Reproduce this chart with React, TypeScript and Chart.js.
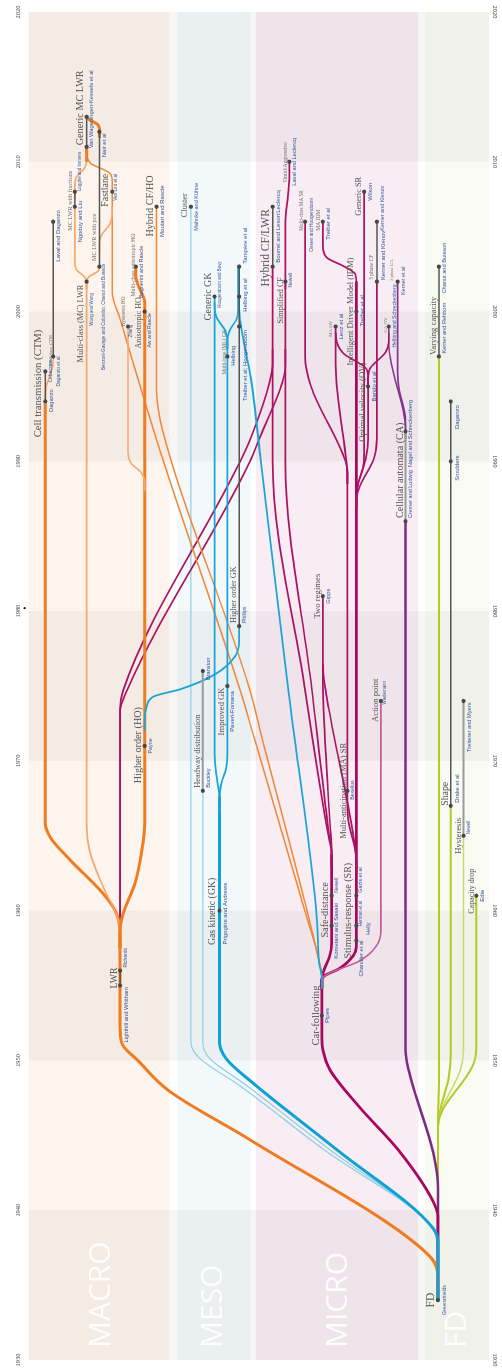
import React, { useEffect, useRef } from "react";
import { Chart, registerables } from "chart.js";

Chart.register(...registerables);

type Pt = [number, number]; // [lane, year]
type Lbl = [string, number, number, number]; // [text, lane, fromYear, toYear]

const PAGE_W = 502;
const PAGE_H = 1368;

// ---------------- axes / frame ----------------
const YEAR_MIN = 1930;
const YEAR_MAX = 2020;
const decadeTicks = [1930, 1940, 1950, 1960, 1970, 1980, 1990, 2000, 2010, 2020];
const darkDecades = [1930, 1950, 1970, 1990, 2010];
const columnNames = ["MACRO", "MESO", "MICRO", "FD"];
const columnLanes: Pt[] = [[25, 168], [176, 251], [256, 421], [428, 493]];
const columnCenters = [99, 213, 340, 461];
const frameLanes: Pt = [25, 493];

// ---------------- MACRO paths ----------------
const fdToLwr: Pt[] = [[441, 1934.0], [440.5, 1935.9], [430, 1937.1], [250, 1944.7], [167, 1948.0], [136, 1950.0], [120, 1951.1], [118, 1952.3], [118, 1958.6]];
const lwrToCtm: Pt[] = [[118, 1957.5], [118, 1958.6], [113, 1960.0], [100, 1961.2], [67, 1963.4], [47, 1964.9], [42, 1965.9], [42, 1994.0]];
const lwrToMc: Pt[] = [[118, 1957.5], [118, 1958.6], [115, 1959.6], [100, 1961.7], [87, 1964.0], [84, 1965.8], [84, 2002.0]];
const lwrToHo: Pt[] = [[118, 1957.5], [118, 1958.6], [121, 1959.8], [133, 1961.8], [140, 1964.0], [143, 1965.8], [143, 2000.0]];
const hoToAniso: Pt[] = [[143, 1999.5], [143, 2000.6], [136, 2001.8], [134, 2002.4], [134, 2003.0]];
const hoToZhang: Pt[] = [[143, 1988.0], [143, 1988.6], [140, 1989.2], [129, 1989.9], [126, 1990.6], [126, 1999.0]];
const ctmMulti: Pt[] = [[42, 1993.8], [42, 1994.4], [43, 1995.0], [49, 1996.2], [50, 1996.8], [50, 1997.0]];
const mcLeft: Pt[] = [[84, 2001.5], [84, 2002.0], [82, 2002.3], [73.5, 2002.8], [72, 2003.3], [72, 2007.0]];
const mcLeftUp: Pt[] = [[72, 2007.5], [72, 2008.4], [73, 2008.9], [82, 2009.6], [84, 2010.2], [84, 2010.8]];
const mcRight: Pt[] = [[84, 2001.5], [84, 2002.0], [86, 2002.3], [95.5, 2002.7], [97, 2003.0]];
const mcToFast: Pt[] = [[97, 2004.0], [97, 2004.6], [99, 2005.1], [108, 2005.9], [110, 2006.6], [110, 2007.0]];
const fastlane: Pt[] = [[323, 1954.8], [323, 1955.4], [319, 1957.0], [308, 1959.5], [254, 1971.6], [240, 1974.7], [162, 1990.0], [118, 1999.5], [110, 2001.3], [110, 2008.6], [108, 2009.2], [88, 2009.9], [84, 2010.4]];
const hybridCfHo: Pt[] = [[323, 1954.8], [323, 1955.4], [318, 1957.2], [306, 1960.5], [262, 1971.6], [250, 1974.7], [170, 1990.0], [158, 1993.0], [155, 1994.8], [155, 2007.0]];
const nairToVwk: Pt[] = [[97, 2011.6], [97, 2012.2], [95, 2012.5], [87, 2012.8], [84, 2013.0]];
const genericMc: Pt[] = [[84, 2010.0], [84, 2011.0]];

// ---------------- MESO paths ----------------
const gk: Pt[] = [[441, 1934.0], [441, 1937.8], [436, 1938.8], [339, 1944.0], [251, 1948.6], [226, 1950.1], [219, 1951.2], [219, 1967.6]];
const gkToGeneric: Pt[] = [[219, 1966.5], [219, 1967.6], [217, 1968.5], [215, 1969.5], [214, 1970.5], [214, 2001.0]];
const gkToImproved: Pt[] = [[219, 1966.5], [219, 1967.6], [221, 1968.5], [226, 1969.6], [227, 1970.5], [227, 1998.0]];
const mlLeft: Pt[] = [[227, 1997.5], [227, 1998.0], [225, 1998.7], [216, 1999.6], [214, 2000.3], [214, 2000.6]];
const mlRight: Pt[] = [[227, 1997.5], [227, 1998.0], [229, 1998.7], [237, 1999.6], [238, 2000.3], [238, 2003.0]];
const clusterLine: Pt[] = [[441, 1934.0], [441, 1937.8], [434, 1939.0], [326, 1944.0], [240, 1948.3], [198, 1950.2], [190, 1951.2], [190, 2007.0]];
const headwayLine: Pt[] = [[441, 1934.0], [441, 1937.8], [435, 1938.9], [332, 1944.0], [245, 1948.4], [208, 1950.2], [202, 1951.2], [202, 1968.0]];
const hoGk: Pt[] = [[143, 1972.0], [143, 1972.8], [145, 1973.6], [152, 1974.3], [180, 1974.8], [215, 1975.8], [235, 1977.0], [239, 1978.0], [239, 1979.0]];
const cfToMeso: Pt[] = [[323, 1954.8], [323, 1955.4], [320, 1956.6], [318, 1959.4], [289, 1974.7], [261, 1990.0], [251, 1995.5], [241, 1999.0], [239, 2000.2], [239, 2001.0]];

// ---------------- MICRO paths ----------------
const cf: Pt[] = [[441, 1934.0], [441, 1939.6], [436, 1940.6], [401, 1944.0], [361, 1946.9], [331, 1949.4], [324, 1950.7], [323, 1951.5], [323, 1955.4]];
const ca: Pt[] = [[441, 1934.0], [441, 1941.5], [437, 1943.6], [411, 1949.4], [408, 1950.7], [408, 1986.0]];
const caUp: Pt[] = [[408, 1991.5], [408, 1992.0], [408, 1992.7], [401, 1995.0], [400, 1996.0], [400, 2002.0]];
const caOv: Pt[] = [[408, 1991.5], [408, 1992.3], [406, 1993.3], [394, 1996.4], [391, 1997.8], [391, 1999.0]];
const safeDist: Pt[] = [[323, 1954.8], [323, 1955.4], [325, 1956.0], [331, 1957.0], [333, 1957.8], [333, 1963.8]];
const sdToGipps: Pt[] = [[333, 1963.0], [333, 1963.8], [331, 1966.0], [325, 1973.0], [324, 1975.0], [324, 1981.0]];
const srToGipps: Pt[] = [[358, 1962.6], [358, 1963.4], [355, 1965.0], [330, 1973.5], [325, 1975.5], [324, 1976.5]];
const sdToSimp: Pt[] = [[333, 1963.0], [333, 1963.8], [330, 1965.2], [313, 1974.7], [286, 1990.0], [286, 2002.0]];
const sdToHyb: Pt[] = [[333, 1963.0], [333, 1963.8], [329, 1965.2], [306, 1974.7], [273, 1990.0], [273, 2003.0]];
const simpUp: Pt[] = [[286, 2001.5], [286, 2006.0], [289, 2008.0], [290, 2009.0], [290, 2010.0]];
const lwrToHyb1: Pt[] = [[118, 1957.5], [118, 1958.6], [118, 1973.5], [121, 1974.7], [240, 1990.0], [251, 1991.6], [270, 1995.3], [273, 1996.5], [273, 1997.5]];
const lwrToHyb2: Pt[] = [[118, 1957.5], [118, 1958.6], [118, 1973.3], [125, 1974.7], [250, 1990.0], [260, 1991.6], [283, 1995.3], [286, 1996.5], [286, 1997.5]];
const sr: Pt[] = [[323, 1954.8], [323, 1955.4], [327, 1955.7], [340, 1956.1], [355, 1957.0], [358, 1957.6], [358, 2002.0]];
const maIdm: Pt[] = [[358, 2001.5], [358, 2002.0], [357, 2002.5], [346, 2003.0], [328, 2003.6], [324, 2004.4], [324, 2006.0]];
const maSr: Pt[] = [[358, 1962.5], [358, 1963.2], [357, 1964.0], [350, 1966.0], [349, 1967.0], [349, 1989.5]];
const maSrToMc: Pt[] = [[349, 1988.5], [349, 1989.2], [347, 1990.0], [312, 1995.0], [306, 1997.0], [306, 2006.0]];
const maSrToMaOv: Pt[] = [[349, 1988.5], [349, 1989.2], [348, 1990.0], [339, 1994.5], [337, 1996.5], [337, 1999.0]];
const genericSr: Pt[] = [[358, 1986.8], [358, 1987.5], [359, 1988.3], [365, 1989.6], [366, 1990.5], [366, 2008.0]];
const ov: Pt[] = [[358, 1986.8], [358, 1987.5], [360, 1988.5], [368, 1990.3], [370, 1991.5], [370, 1995.6]];
const ovToMaOv: Pt[] = [[370, 1995.0], [370, 1995.6], [368, 1996.2], [345, 1997.2], [338, 1998.0], [337, 1998.6]];
const ovToCaOv: Pt[] = [[370, 1995.0], [370, 1995.6], [372, 1996.2], [388, 1997.3], [391, 1998.0], [391, 1998.6]];
const threePhaseCf: Pt[] = [[358, 1986.8], [358, 1987.5], [362, 1988.4], [376, 1990.2], [379, 1991.5], [379, 2002.0]];
const actionPoint: Pt[] = [[323, 1954.8], [323, 1955.4], [330, 1955.8], [360, 1956.6], [378, 1957.6], [383, 1958.6], [383, 1974.0]];

// ---------------- FD paths ----------------
const fdVar: Pt[] = [[441, 1934.0], [441, 1946.0], [441.6, 1947.5], [442, 1949.0], [442, 1997.0]];
const fdShape: Pt[] = [[441, 1934.0], [441, 1945.6], [443, 1946.6], [452, 1948.9], [454, 1950.4], [454, 1967.0]];
const fdHyst: Pt[] = [[441, 1934.0], [441, 1945.6], [444, 1946.6], [464, 1949.4], [467, 1950.6], [467, 1965.0]];
const fdCap: Pt[] = [[441, 1934.0], [441, 1945.6], [445, 1946.6], [476, 1949.6], [480, 1950.8], [480, 1961.0]];

// ---------------- short connectors between publications ----------------
const darkLinks: Pt[][] = [
  [[118, 1955.0], [118, 1956.0]],
  [[42, 1994.0], [42, 1996.0]],
  [[50, 1997.0], [50, 2006.0]],
  [[72, 2007.0], [72, 2008.0]],
  [[97, 2003.0], [97, 2012.0]],
  [[84, 2011.0], [84, 2013.0]],
  [[239, 1979.0], [239, 2003.0]],
  [[273, 2003.0], [273, 2007.0]],
  [[379, 2002.0], [379, 2006.0]],
  [[442, 1997.0], [442, 2003.0]],
  [[454, 1967.0], [454, 1994.0]],
];
const grayLinks: Pt[][] = [
  [[202, 1968.0], [202, 1976.0]],
  [[408, 1986.0], [408, 1992.0]],
  [[467, 1965.0], [467, 1974.0]],
];

// ---------------- publication dots ----------------
const pubDots: Pt[] = [
  [441, 1934.0],
  [118, 1955.0], [118, 1956.0], [143, 1971.0], [42, 1994.0], [42, 1996.0], [50, 1997.0], [50, 2006.0],
  [126, 1999.0], [143, 2000.0], [134, 2003.0], [84, 2002.0], [97, 2003.0], [72, 2007.0], [72, 2008.0],
  [110, 2008.0], [84, 2011.0], [84, 2013.0], [97, 2012.0], [155, 2007.0],
  [219, 1960.0], [202, 1968.0], [202, 1976.0], [227, 1975.0], [239, 1979.0], [227, 1997.0],
  [239, 1999.0], [239, 2001.0], [239, 2003.0], [214, 2001.0], [190, 2007.0],
  [323, 1953.0], [333, 1959.0], [333, 1961.0], [358, 1958.0], [358, 1959.0], [358, 1961.0], [349, 1968.0],
  [383, 1974.0], [324, 1981.0], [408, 1986.0], [408, 1992.0], [370, 1995.0], [337, 1999.0], [391, 1999.0],
  [358, 2000.0], [286, 2002.0], [379, 2002.0], [400, 2002.0], [273, 2003.0], [273, 2007.0], [306, 2006.0],
  [324, 2006.0], [379, 2006.0], [366, 2008.0], [290, 2010.0],
  [480, 1961.0], [467, 1965.0], [454, 1967.0], [467, 1974.0], [454, 1990.0], [454, 1994.0], [442, 1997.0], [442, 2003.0],
];
const strayDot: Pt[] = [[21, 1980.2]];

// ---------------- labels ----------------
const modelLabels: Lbl[] = [
  ["FD", 437, 1933.5, 1934.5],
  ["LWR", 115, 1954.8, 1956.2],
  ["Cell transmission (CTM)", 38, 1991.6, 1998.8],
  ["Higher order (HO)", 139.5, 1968.5, 1973.6],
  ["Multi-class (MC) LWR", 80.5, 1996.6, 2001.8],
  ["Generic MC LWR", 80, 2011.1, 2016.1],
  ["Fastlane", 105.5, 2007.0, 2009.2],
  ["Hybrid CF/HO", 151.5, 2005.0, 2009.1],
  ["Anisotropic HO", 139.5, 1997.6, 2000.9],
  ["Cluster", 186, 2006.3, 2007.9],
  ["Generic GK", 210.5, 1999.4, 2002.6],
  ["Higher order GK", 236, 1979.2, 1983.0],
  ["Headway distribution", 199, 1968.2, 1973.1],
  ["Improved GK", 223.5, 1971.7, 1974.9],
  ["Gas kinetic (GK)", 214.5, 1957.7, 1962.2],
  ["Car-following", 320, 1951.0, 1955.0],
  ["Safe-distance", 329, 1958.2, 1961.9],
  ["Stimulus-response (SR)", 353, 1956.8, 1963.2],
  ["Multi-anticipation (MA) SR", 347.5, 1964.8, 1971.2],
  ["Action point", 380, 1972.6, 1975.5],
  ["Two regimes", 321, 1979.5, 1982.5],
  ["Cellular automata (CA)", 405, 1986.2, 1992.6],
  ["Optimal velocity (OV)", 366.5, 1991.3, 1996.6],
  ["Intelligent Driver Model (IDM)", 355, 1996.4, 2003.6],
  ["Simplified CF", 283.5, 1999.2, 2002.3],
  ["Hybrid CF/LWR", 269, 2001.1, 2007.4],
  ["Generic SR", 363, 2006.4, 2009.0],
  ["Capacity drop", 477.5, 1960.0, 1962.6],
  ["Hysteresis", 464, 1963.8, 1966.2],
  ["Shape", 451, 1967.0, 1968.6],
  ["Varying capacity", 438.5, 1997.1, 2001.0],
];

const authorLabels: Lbl[] = [
  ["Greenshields", 445, 1933.0, 1935.0],
  ["Lighthill and Whitham", 121, 1951.2, 1954.9],
  ["Richards", 121, 1956.2, 1957.5],
  ["Payne", 146, 1970.5, 1971.5],
  ["Daganzo", 45, 1993.3, 1994.8],
  ["Lebacque", 45, 1995.3, 1996.8],
  ["Daganzo et al", 53, 1995.0, 1997.0],
  ["Laval and Daganzo", 52, 2003.0, 2007.1],
  ["Wong and Wong", 87, 1999.1, 2001.2],
  ["Benzoni-Gavage and Colombo; Chanut and Buisson", 99, 1996.1, 2003.2],
  ["Logghe and Immers", 75, 2008.1, 2010.6],
  ["Ngoduy and Liu", 75, 2004.4, 2007.6],
  ["Van Wageningen-Kessels et al", 86, 2010.9, 2016.1],
  ["Nair et al", 99, 2010.3, 2011.9],
  ["Van Lint et al", 111, 2007.4, 2009.2],
  ["Moutari and Rascle", 158, 2004.8, 2008.6],
  ["Zhang", 127, 1998.3, 1999.1],
  ["Bagnerini and Rascle", 137, 2000.9, 2004.4],
  ["Aw and Rascle", 145, 1997.6, 1999.9],
  ["Mahnke and Kühne", 193, 2005.4, 2008.6],
  ["Hoogendoorn and Bovy", 217, 2000.3, 2003.3],
  ["Helbing", 230, 1996.3, 1997.8],
  ["Treiber et al; Hoogendoorn", 242, 1993.9, 1998.9],
  ["Helbing et al", 242, 1999.9, 2002.3],
  ["Tampère et al", 242, 2003.2, 2005.6],
  ["Phillips", 242, 1979.2, 1980.3],
  ["Branston", 205, 1975.4, 1976.9],
  ["Buckley", 205, 1968.2, 1969.5],
  ["Paveri-Fontana", 229, 1971.7, 1974.9],
  ["Prigogine and Andrews", 222, 1957.7, 1961.9],
  ["Pipes", 326, 1952.5, 1953.5],
  ["Kometani and Sasaki", 335, 1956.8, 1960.5],
  ["Newell", 335, 1961.2, 1962.2],
  ["Gazis et al", 360, 1961.2, 1962.9],
  ["Herman et al", 360, 1959.0, 1960.6],
  ["Chandler et al", 360, 1955.6, 1958.0],
  ["Helly", 368, 1958.4, 1959.2],
  ["Bexelius", 352, 1967.4, 1968.7],
  ["Wiedemann", 385, 1973.9, 1975.2],
  ["Gipps", 327, 1980.5, 1981.5],
  ["Cremer and Ludwig", 410, 1986.2, 1989.4],
  ["Nagel and Schreckenberg", 410, 1989.6, 1994.1],
  ["Bando et al", 373, 1994.0, 1996.0],
  ["Treiber et al", 361, 1999.0, 2001.1],
  ["Lenz et al", 340, 1998.1, 1999.9],
  ["Helbing and Schreckenberg", 394, 1997.6, 2001.8],
  ["Kerner and Klenov", 382, 2002.1, 2005.4],
  ["Kerner et al", 403, 2001.1, 2003.0],
  ["Newell", 289, 2001.6, 2002.6],
  ["Bourrel and Lesort", 276, 2003.2, 2006.6],
  ["Leclercq", 276, 2006.6, 2008.1],
  ["Laval and Leclercq", 292, 2008.4, 2011.6],
  ["Ossen and Hoogendoorn", 310, 2004.0, 2007.6],
  ["Treiber et al", 327, 2004.6, 2007.1],
  ["Wilson", 369, 2007.4, 2008.6],
  ["Kerner and Klenov", 382, 2005.4, 2008.4],
  ["Edie", 483, 1960.6, 1961.4],
  ["Newell", 470, 1965.2, 1965.9],
  ["Drake et al", 458, 1967.2, 1969.1],
  ["Treiterer and Myers", 470, 1970.6, 1973.9],
  ["Smulders", 458, 1988.7, 1990.4],
  ["Daganzo", 458, 1991.9, 1994.0],
  ["Kerner and Rehborn", 445, 1997.2, 2000.6],
  ["Chanut and Buisson", 445, 2001.2, 2004.6],
];

const variantLabels: Lbl[] = [
  ["Multi-lane CTM", 48.5, 1996.6, 1998.2],
  ["MC LWR with pce", 93, 2003.3, 2006.6],
  ["MC LWR with fractions", 69.5, 2005.4, 2009.4],
  ["Hysteresis HO", 123, 1999.0, 2001.0],
  ["Multi-class anisotropic HO", 133, 2001.0, 2005.2],
  ["Multi-lane (ML) GK", 225.5, 1995.8, 1998.8],
  ["MA OV", 333, 1998.3, 1999.4],
  ["CA OV", 389, 1998.6, 1999.6],
  ["3 phase CF", 375, 2002.1, 2003.8],
  ["3 phase CA", 395, 2002.1, 2003.4],
  ["Timid/Aggressive", 288, 2008.6, 2011.3],
  ["Multi-class MA SR", 304, 2005.4, 2008.1],
  ["MA IDM", 321, 2005.4, 2006.8],
];

// ---------------- styles ----------------
const STYLE: Record<string, { color: string; width: number }> = {
  orange: { color: "#ee7d22", width: 3 },
  orangeMid: { color: "#f0883a", width: 1.5 },
  orangeLight: { color: "#f4a86c", width: 1.6 },
  blue: { color: "#0ea1d3", width: 3 },
  blueMid: { color: "#19a6d6", width: 1.8 },
  blueLight: { color: "#92d0e6", width: 1.3 },
  magenta: { color: "#a9075f", width: 2.8 },
  magentaMid: { color: "#ab1264", width: 1.7 },
  pink: { color: "#c65a9b", width: 1.6 },
  purple: { color: "#7e2b87", width: 2.5 },
  purpleThin: { color: "#86358f", width: 1.6 },
  green: { color: "#b3ca22", width: 2 },
  greenLight: { color: "#cad86e", width: 1.6 },
  dark: { color: "#555555", width: 1.5 },
  gray: { color: "#9a9a9a", width: 2 },
};

const columnFills = ["#fdf4ed", "#f3f8fb", "#f8edf3", "#f9faf1"];

// draw order: bottom -> top
const layers: [Pt[], string][] = [
  [fdVar, "green"], [fdShape, "green"], [fdHyst, "greenLight"], [fdCap, "green"],
  [ca, "purple"], [caUp, "purpleThin"], [caOv, "purpleThin"],
  [clusterLine, "blueLight"], [headwayLine, "blueLight"],
  [cf, "magenta"], [safeDist, "magenta"], [sdToGipps, "magentaMid"], [srToGipps, "magentaMid"],
  [sdToSimp, "magentaMid"], [sdToHyb, "magentaMid"], [simpUp, "magentaMid"],
  [lwrToHyb1, "magentaMid"], [lwrToHyb2, "magentaMid"], [sr, "magenta"], [maIdm, "magentaMid"],
  [maSr, "magentaMid"], [maSrToMc, "magentaMid"], [maSrToMaOv, "magentaMid"], [genericSr, "magentaMid"],
  [ov, "magentaMid"], [ovToMaOv, "magentaMid"], [ovToCaOv, "magentaMid"], [threePhaseCf, "magentaMid"],
  [actionPoint, "pink"],
  [fastlane, "orangeMid"], [hybridCfHo, "orangeMid"], [fdToLwr, "orange"], [lwrToCtm, "orange"],
  [lwrToMc, "orangeLight"], [lwrToHo, "orange"], [hoToAniso, "orange"], [hoToZhang, "orangeLight"],
  [ctmMulti, "orangeLight"], [mcLeft, "orangeLight"], [mcLeftUp, "orangeLight"], [mcRight, "orangeLight"],
  [mcToFast, "orangeLight"], [nairToVwk, "orange"], [genericMc, "orange"],
  [gk, "blue"], [gkToGeneric, "blueMid"], [gkToImproved, "blueMid"], [mlLeft, "blueMid"], [mlRight, "blueMid"],
  [hoGk, "blueMid"], [cfToMeso, "blueMid"],
  ...grayLinks.map((p) => [p, "gray"] as [Pt[], string]),
  ...darkLinks.map((p) => [p, "dark"] as [Pt[], string]),
];

const SERIF = '"Liberation Serif", "DejaVu Serif", serif';
const SANS = '"Liberation Sans", "Noto Sans", sans-serif';

const genealogyPlugin = {
  id: "genealogy",
  beforeDatasetsDraw(chart: any) {
    const { ctx } = chart;
    const X = (v: number) => chart.scales.x.getPixelForValue(v);
    const Y = (v: number) => chart.scales.y.getPixelForValue(v);
    ctx.save();
    const x0 = X(YEAR_MIN);
    const x1 = X(YEAR_MAX);
    columnLanes.forEach(([a, b], i) => {
      ctx.fillStyle = columnFills[i];
      ctx.fillRect(x0, Y(a), x1 - x0, Y(b) - Y(a));
    });
    ctx.fillStyle = "rgba(0,0,0,0.037)";
    darkDecades.forEach((d) => {
      ctx.fillRect(X(d), Y(frameLanes[0]), X(d + 10) - X(d), Y(frameLanes[1]) - Y(frameLanes[0]));
    });
    ctx.fillStyle = "rgba(255,255,255,0.92)";
    ctx.font = '30px "Open Sans", "Liberation Sans", sans-serif';
    ctx.textAlign = "left";
    ctx.textBaseline = "middle";
    columnNames.forEach((n, i) => ctx.fillText(n, X(1930.8), Y(columnCenters[i])));
    ctx.fillStyle = "#444";
    ctx.font = `6.4px ${SERIF}`;
    ctx.textAlign = "center";
    ctx.textBaseline = "alphabetic";
    decadeTicks.forEach((t) => {
      ctx.fillText(String(t), X(t), Y(16.3));
      ctx.save();
      ctx.translate(X(t), Y(496.5));
      ctx.rotate(Math.PI);
      ctx.fillText(String(t), 0, 0);
      ctx.restore();
    });
    ctx.restore();
  },
  afterDatasetsDraw(chart: any) {
    const { ctx } = chart;
    const X = (v: number) => chart.scales.x.getPixelForValue(v);
    const Y = (v: number) => chart.scales.y.getPixelForValue(v);
    const draw = (list: Lbl[], family: string, base: number, lo: number, hi: number, color: string, top: boolean) => {
      ctx.fillStyle = color;
      ctx.textAlign = "center";
      ctx.textBaseline = top ? "top" : "alphabetic";
      for (const [t, lane, a, b] of list) {
        ctx.font = `${base}px ${family}`;
        const w = ctx.measureText(t).width;
        const target = X(b) - X(a);
        const s = Math.max(base * lo, Math.min(base * hi, (base * target) / w));
        ctx.font = `${s.toFixed(2)}px ${family}`;
        ctx.fillText(t, (X(a) + X(b)) / 2, Y(lane));
      }
    };
    ctx.save();
    draw(modelLabels, SERIF, 10, 0.8, 1.15, "#555555", false);
    draw(variantLabels, SERIF, 5.4, 0.85, 1.15, "#707070", false);
    draw(authorLabels, SANS, 5.2, 0.85, 1.15, "#33589c", true);
    ctx.restore();
  },
};

export default function App() {
  const ref = useRef<HTMLCanvasElement>(null);
  useEffect(() => {
    document.body.style.margin = "0";
    const canvas = ref.current;
    if (!canvas) return;
    const n = layers.length;
    const datasets: any[] = layers.map(([pts, key], i) => ({
      type: "line",
      data: pts.map(([lane, year]) => ({ x: year, y: lane })),
      borderColor: STYLE[key].color,
      borderWidth: STYLE[key].width,
      pointRadius: 0,
      pointHoverRadius: 0,
      cubicInterpolationMode: "monotone",
      fill: false,
      order: n - i + 2,
    }));
    datasets.push({
      type: "scatter",
      data: pubDots.map(([lane, year]) => ({ x: year, y: lane })),
      pointRadius: 2.1,
      pointBackgroundColor: "#474747",
      pointBorderWidth: 0,
      order: 1,
    });
    datasets.push({
      type: "scatter",
      data: strayDot.map(([lane, year]) => ({ x: year, y: lane })),
      pointRadius: 1.1,
      pointBackgroundColor: "#111",
      pointBorderWidth: 0,
      order: 0,
    });
    const chart = new Chart(canvas, {
      type: "line",
      data: { datasets },
      options: {
        responsive: false,
        animation: false,
        devicePixelRatio: 1,
        events: [],
        layout: { padding: { left: 8, right: 12, top: 0, bottom: 0 } },
        scales: {
          x: { type: "linear", min: YEAR_MIN, max: YEAR_MAX, display: false },
          y: { type: "linear", min: 0, max: PAGE_W, reverse: true, display: false },
        },
        plugins: { legend: { display: false }, tooltip: { enabled: false } },
      },
      plugins: [genealogyPlugin],
    } as any);
    return () => chart.destroy();
  }, []);
  return (
    <div style={{ position: "relative", width: PAGE_W, height: PAGE_H, overflow: "hidden", background: "#fff" }}>
      <div
        style={{
          position: "absolute",
          left: 0,
          top: 0,
          width: PAGE_H,
          height: PAGE_W,
          transformOrigin: "0 0",
          transform: `translate(0px, ${PAGE_H}px) rotate(-90deg)`,
        }}
      >
        <canvas ref={ref} width={PAGE_H} height={PAGE_W} style={{ width: PAGE_H, height: PAGE_W, display: "block" }} />
      </div>
    </div>
  );
}
